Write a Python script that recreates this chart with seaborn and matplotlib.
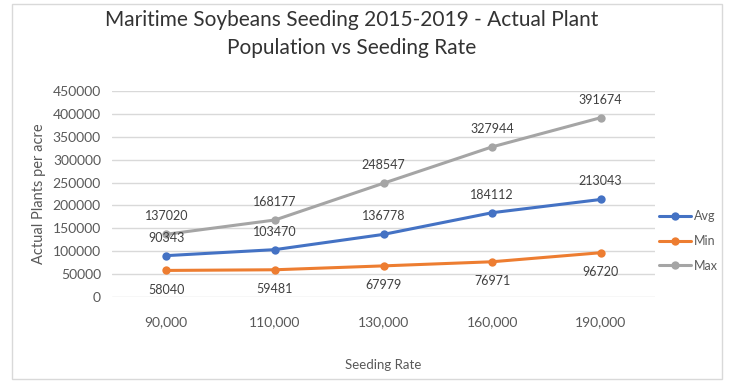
import matplotlib
matplotlib.use("Agg")
import matplotlib.pyplot as plt
import seaborn as sns
import pandas as pd
from matplotlib.patches import Rectangle
from matplotlib.lines import Line2D

# datos
seeding_rate = ["90,000", "110,000", "130,000", "160,000", "190,000"]
avg_vals = [90343, 103470, 136778, 184112, 213043]
min_vals = [58040, 59481, 67979, 76971, 96720]
max_vals = [137020, 168177, 248547, 327944, 391674]

series = ["Avg", "Min", "Max"]
colors = {"Avg": "#4472C4", "Min": "#ED7D31", "Max": "#A5A5A5"}

df = pd.DataFrame({
    "rate": seeding_rate * 3,
    "x": list(range(len(seeding_rate))) * 3,
    "value": avg_vals + min_vals + max_vals,
    "serie": ["Avg"] * 5 + ["Min"] * 5 + ["Max"] * 5,
})

sns.set_style("white")
plt.rcParams["font.family"] = ["Lato", "DejaVu Sans"]
txt = "#595959"

fig = plt.figure(figsize=(7.32, 3.83), dpi=100)
ax = fig.add_axes([112 / 732, 1 - 297 / 383, 543 / 732, 206 / 383])

sns.lineplot(data=df, x="x", y="value", hue="serie", hue_order=series,
             palette=colors, marker="o", markersize=6, linewidth=2.2,
             markeredgewidth=0, ax=ax, legend=False)

ax.set_xlim(-0.5, 4.5)
ax.set_ylim(0, 450000)
ax.set_yticks(range(0, 450001, 50000))
ax.set_yticklabels([str(v) for v in range(0, 450001, 50000)], color=txt, fontsize=10)
ax.set_xticks(range(5))
ax.set_xticklabels(seeding_rate, color=txt, fontsize=10)
ax.tick_params(axis="x", length=0, pad=14)
ax.tick_params(axis="y", length=0, pad=8)
ax.grid(axis="y", color="#D9D9D9", linewidth=1)
ax.set_axisbelow(True)
for s in ax.spines.values():
    s.set_visible(False)

ax.set_xlabel("Seeding Rate", color=txt, fontsize=9.5, labelpad=22)
ax.set_ylabel("Actual Plants per acre", color=txt, fontsize=10.5, labelpad=5)

# etiquetas de datos
for name, vals, off in [("Avg", avg_vals, 13), ("Min", min_vals, -14), ("Max", max_vals, 13)]:
    for i, v in enumerate(vals):
        ax.annotate(str(v), (i, v), xytext=(0, off), textcoords="offset points",
                    ha="center", va="center", color="#404040", fontsize=9)

# leyenda
handles = [Line2D([0], [0], color=colors[s], marker="o", markersize=6, linewidth=2.2,
                  markeredgewidth=0) for s in series]
fig.legend(handles, series, loc="center left", bbox_to_anchor=(648 / 732, 1 - 241 / 383),
           frameon=False, fontsize=9, labelcolor=txt, handlelength=2.5,
           handletextpad=0.3, labelspacing=1.0)

fig.suptitle("Maritime Soybeans Seeding 2015-2019 - Actual Plant\nPopulation vs Seeding Rate",
             x=0.48, y=0.975, fontsize=15, color="#333333", linespacing=1.55)

fig.patches.append(Rectangle((12 / 732, 0.01), 0.97, 0.98, transform=fig.transFigure,
                             fill=False, edgecolor="#D9D9D9", linewidth=1))

fig.savefig("out.png", dpi=100)
